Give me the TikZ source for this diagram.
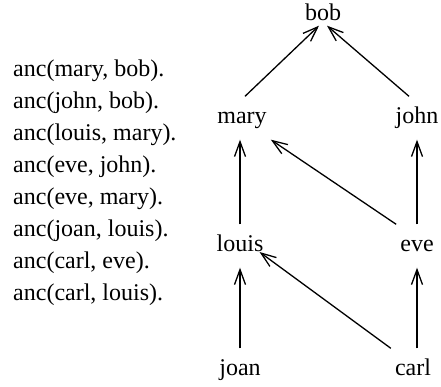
\documentclass[tikz,border=0pt]{standalone}
\usepackage{fontspec}
\setmainfont{Liberation Serif}
\usetikzlibrary{arrows.meta}
\tikzset{%
  pnode/.style={font=\fontsize{24}{28}\selectfont,text height=16pt,text depth=5pt,inner xsep=4pt,inner ysep=11pt},
  link/.style={draw=black,line width=1.3pt,-{Straight Barb[length=15pt,width=11pt,line width=1.3pt]}}
}

\begin{document}
\begin{tikzpicture}[x=1pt,y=-1pt]
      \useasboundingbox (0,0) rectangle (441,386);
      \node (facts)[anchor=north west,align=left,inner sep=0,
        font=\fontsize{24}{32}\selectfont] at (13,60)
        {anc(mary, bob).\\anc(john, bob).\\anc(louis, mary).\\anc(eve, john).\\
         anc(eve, mary).\\anc(joan, louis).\\anc(carl, eve).\\anc(carl, louis).};
      \path
        (323,15) node (bob)[pnode,inner sep=0]{bob}
        (242,118) node (mary)[pnode]{mary}
        (417,118) node (john)[pnode]{john}
        (240,246) node (louis)[pnode]{louis}
        (417,246) node (eve)[pnode]{eve}
        (240,370) node (joan)[pnode]{joan}
        (413,370) node (carl)[pnode]{carl};
      \draw[link] ([xshift=3pt]mary.north) -- ([xshift=-4pt]bob.south);
      \draw[link] ([xshift=-8pt]john.north) -- ([xshift=4pt]bob.south);
      \draw[link] (louis) -- ([xshift=-2pt]mary.south);
      \draw[link] (eve.north west) -- (mary.south east);
      \draw[link] (eve) -- (john);
      \draw[link] (joan) -- (louis);
      \draw[link] (carl.north west) -- ([shift={(-8pt,-6pt)}]louis.east);
      \draw[link] ([xshift=4pt]carl.north) -- (eve);
    \end{tikzpicture}
\end{document}
